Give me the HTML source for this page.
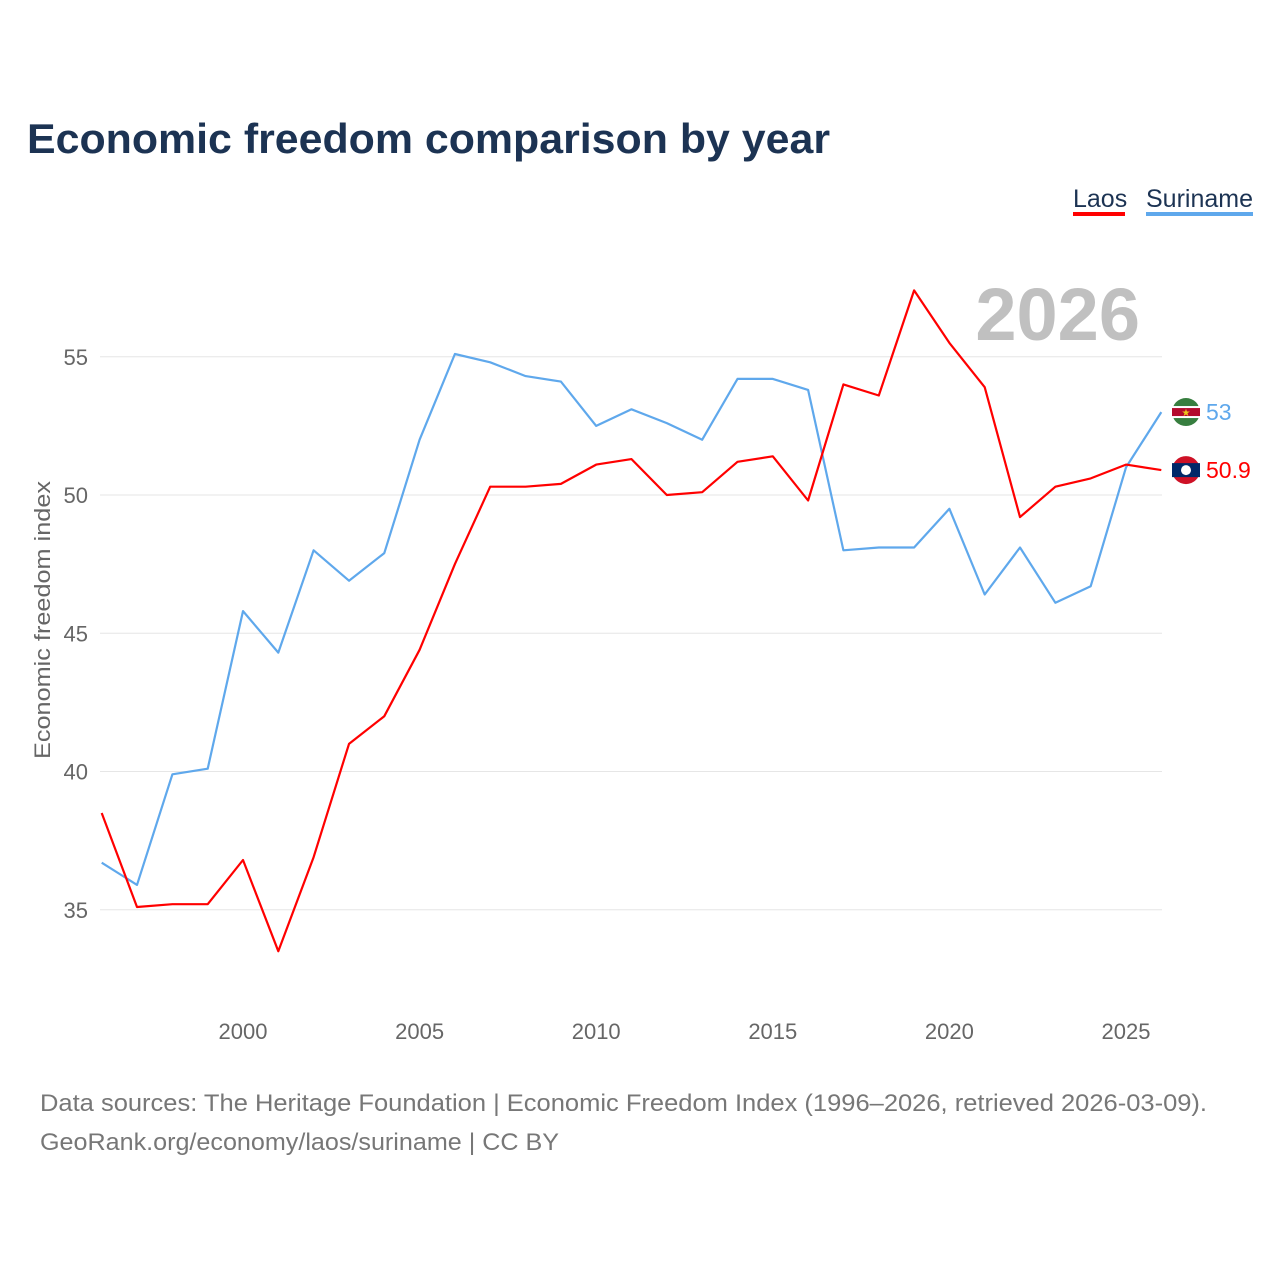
<!DOCTYPE html>
<html><head><meta charset="utf-8">
<style>
html,body{margin:0;padding:0;background:#fff;}
body{width:1280px;height:1280px;overflow:hidden;font-family:"Liberation Sans",sans-serif;}
</style></head>
<body>
<svg id="chart" width="1280" height="1280" xmlns="http://www.w3.org/2000/svg" font-family="Liberation Sans, sans-serif">
<text x="27" y="153" font-size="42" font-weight="bold" fill="#1c3353" textLength="803" lengthAdjust="spacingAndGlyphs">Economic freedom comparison by year</text>
<g>
<text x="1073" y="207" font-size="25" fill="#1c3353">Laos</text>
<rect x="1073" y="212" width="52" height="4" fill="#ff0000"/>
<text x="1146" y="207" font-size="25" fill="#1c3353">Suriname</text>
<rect x="1146" y="212" width="107" height="4" fill="#5fa8ec"/>
</g>
<text x="1140" y="340" text-anchor="end" font-size="74" font-weight="bold" fill="#c0c0c0">2026</text>
<text transform="translate(50,620) rotate(-90)" text-anchor="middle" font-size="22" fill="#666" textLength="278" lengthAdjust="spacingAndGlyphs">Economic freedom index</text>
<g id="grid"></g><g id="yticks"></g><g id="xticks"></g><g id="series"></g><g id="ends"></g>
<text x="40" y="1111" font-size="24" fill="#777" textLength="1167" lengthAdjust="spacingAndGlyphs">Data sources: The Heritage Foundation | Economic Freedom Index (1996–2026, retrieved 2026-03-09).</text>
<text x="40" y="1150" font-size="24" fill="#777" textLength="519" lengthAdjust="spacingAndGlyphs">GeoRank.org/economy/laos/suriname | CC BY</text>
</svg>
<script>
const years = [1996,1997,1998,1999,2000,2001,2002,2003,2004,2005,2006,2007,2008,2009,2010,2011,2012,2013,2014,2015,2016,2017,2018,2019,2020,2021,2022,2023,2024,2025,2026];
const laos = [38.5,35.1,35.2,35.2,36.8,33.5,36.9,41.0,42.0,44.4,47.5,50.3,50.3,50.4,51.1,51.3,50.0,50.1,51.2,51.4,49.8,54.0,53.6,57.4,55.5,53.9,49.2,50.3,50.6,51.1,50.9];
const suriname = [36.7,35.9,39.9,40.1,45.8,44.3,48.0,46.9,47.9,52.0,55.1,54.8,54.3,54.1,52.5,53.1,52.6,52.0,54.2,54.2,53.8,48.0,48.1,48.1,49.5,46.4,48.1,46.1,46.7,51.0,53.0];
const yTicks = [35,40,45,50,55];
const xTicks = [2000,2005,2010,2015,2020,2025];
const NS="http://www.w3.org/2000/svg";
const x = v => 243 + (v-2000)*35.32;
const y = v => 495 - (v-50)*27.65;
function mk(tag, attrs, parent){const e=document.createElementNS(NS,tag);for(const k in attrs)e.setAttribute(k,attrs[k]);document.getElementById(parent).appendChild(e);return e;}
yTicks.forEach(t=>{
  const g=mk('line',{x1:100,x2:1162,y1:y(t),y2:y(t),stroke:'#e6e6e6','stroke-width':1},'grid');
  
  
  const l=mk('text',{x:88,y:y(t)+8,'text-anchor':'end','font-size':22,fill:'#666'},'yticks');
  l.textContent=t;
  
  
});
xTicks.forEach(t=>{
  const l=mk('text',{x:x(t),y:1039,'text-anchor':'middle','font-size':22,fill:'#666'},'xticks');
  l.textContent=t;
  
  
});
function line(vals,color,name){
  const d=vals.map((v,i)=>(i?'L':'M')+x(years[i]).toFixed(1)+','+y(v).toFixed(1)).join(' ');
  const p=mk('path',{d:d,fill:'none',stroke:color,'stroke-width':2.2,'stroke-linejoin':'round'},'series');
  
  
}
line(suriname,'#5fa8ec','line-suriname');
line(laos,'#ff0000','line-laos');
function end(vals,color,name,kind){
  const v=vals[vals.length-1], cy=y(v);
  const g=mk('g',{},'ends');
  
  
  const cx=1186;
  if(kind==='laos'){
    g.innerHTML=`<circle cx="${cx}" cy="${cy}" r="14" fill="#ce1126"/><rect x="${cx-14}" y="${cy-7}" width="28" height="14" fill="#002868"/><circle cx="${cx}" cy="${cy}" r="5" fill="#fff"/>`;
  } else {
    g.innerHTML=`<circle cx="${cx}" cy="${cy}" r="14" fill="#377e3f"/><rect x="${cx-14}" y="${cy-6}" width="28" height="12" fill="#fff"/><rect x="${cx-14}" y="${cy-4}" width="28" height="8" fill="#b40a2d"/><text x="${cx}" y="${cy+4}" text-anchor="middle" font-size="10" fill="#ecc81d">★</text>`;
  }
  const t=mk('text',{x:1206,y:cy+8,'font-size':23,fill:color},'ends');
  t.textContent=v;
  
  
}
end(suriname,'#5fa8ec','end-label-suriname','sur');
end(laos,'#ff0000','end-label-laos','laos');
</script>
</body></html>
